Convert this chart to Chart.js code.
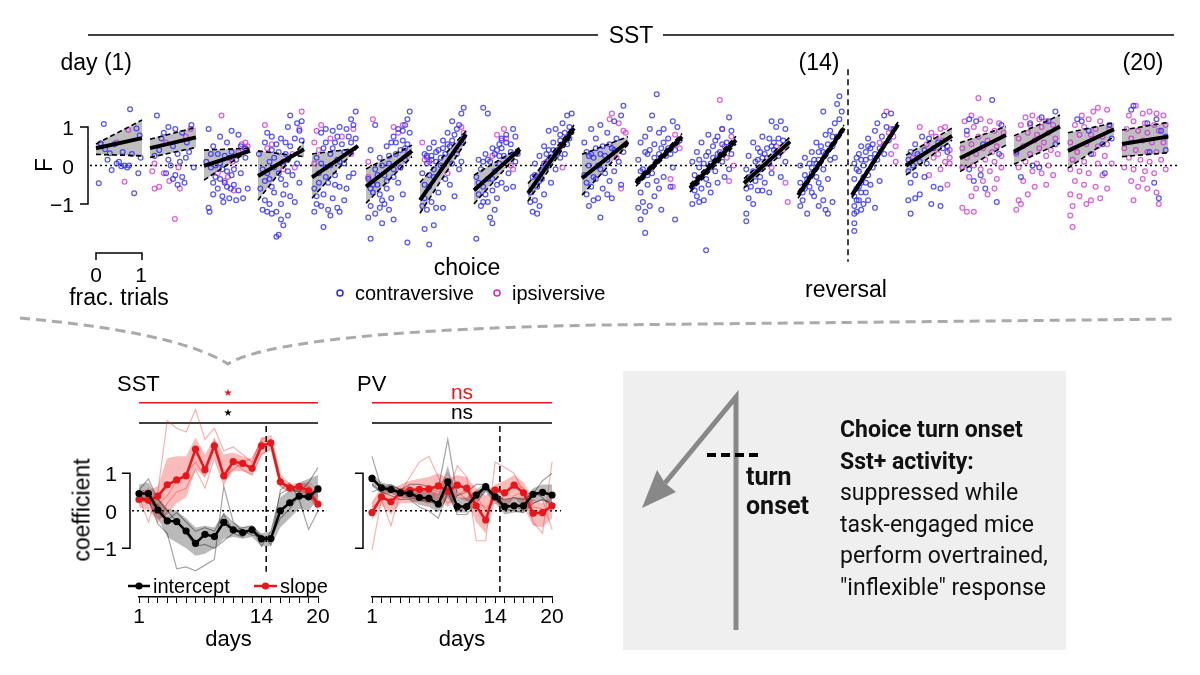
<!DOCTYPE html>
<html>
<head>
<meta charset="utf-8">
<title>SST choice turn onset</title>
<script src="https://cdn.jsdelivr.net/npm/chart.js@4.4.1/dist/chart.umd.min.js"></script>
<style>
html,body{margin:0;padding:0;background:#fff;}
#fig{position:relative;width:1200px;height:675px;overflow:hidden;background:#fff;font-family:"Liberation Sans",Arial,Helvetica,sans-serif;color:#000;}
#fig canvas{position:absolute;left:0;top:0;}
.lb{position:absolute;white-space:nowrap;line-height:1;transform:translateY(-50%);}
.c{transform:translate(-50%,-50%);}
.r{transform:translate(-100%,-50%);}
.rot{transform:translate(-50%,-50%) rotate(-90deg);}
#box{position:absolute;left:623px;top:371px;width:443px;height:279px;background:#efefef;}
.note{position:absolute;font-family:Roboto,"Noto Sans",sans-serif;color:#111;white-space:nowrap;}
</style>
</head>
<body>
<div id="fig">
  <div id="box"></div>
  <svg width="1200" height="675" style="position:absolute;left:0;top:0">
    <line x1="88" y1="35" x2="598" y2="35" stroke="#000" stroke-width="1.5"/>
    <line x1="663" y1="35" x2="1174" y2="35" stroke="#000" stroke-width="1.5"/>
    <polyline points="96,260 96,253 142,253 142,260" fill="none" stroke="#000" stroke-width="1.5"/>
    <circle cx="340" cy="293" r="3" fill="none" stroke="rgb(40,40,235)" stroke-width="1.5"/>
    <circle cx="497" cy="293" r="3" fill="none" stroke="rgb(205,40,200)" stroke-width="1.5"/>
    <path d="M20,318 C110,326 190,340 228,364 C250,350 330,330 600,325 L1176,319" fill="none" stroke="#aaa" stroke-width="3" stroke-dasharray="10 6"/>
    <polyline points="665,483 736,397 736,630" fill="none" stroke="#888" stroke-width="5" stroke-linejoin="miter"/>
    <polygon points="642,508 657,470 665,483 676,492" fill="#888"/>
    <line x1="707" y1="455" x2="762" y2="455" stroke="#000" stroke-width="4" stroke-dasharray="9 5"/>
    <line x1="128" y1="586" x2="150" y2="586" stroke="#000" stroke-width="2.5"/>
    <circle cx="139" cy="586" r="3.6" fill="#000"/>
    <line x1="254" y1="586" x2="277" y2="586" stroke="#e8161b" stroke-width="2.5"/>
    <circle cx="265.5" cy="586" r="3.6" fill="#e8161b"/>
  </svg>
  <canvas id="cTop" width="1200" height="675"></canvas>
  <canvas id="cSst" width="1200" height="675"></canvas>
  <canvas id="cPv" width="1200" height="675"></canvas>

  <div class="lb c" style="left:631px;top:35px;font-size:23px;">SST</div>
  <div class="lb r" style="left:132px;top:62px;font-size:23px;">day (1)</div>
  <div class="lb c" style="left:819px;top:62px;font-size:23px;">(14)</div>
  <div class="lb c" style="left:1143px;top:62px;font-size:23px;">(20)</div>
  <div class="lb rot" style="left:44px;top:165px;font-size:23px;">F</div>
  <div class="lb c" style="left:96px;top:274px;font-size:21px;">0</div>
  <div class="lb c" style="left:141px;top:274px;font-size:21px;">1</div>
  <div class="lb c" style="left:119px;top:297px;font-size:23px;">frac. trials</div>
  <div class="lb c" style="left:467px;top:267px;font-size:23px;">choice</div>
  <div class="lb" style="left:355px;top:293px;font-size:20px;">contraversive</div>
  <div class="lb" style="left:512px;top:293px;font-size:20px;">ipsiversive</div>
  <div class="lb" style="left:805px;top:289px;font-size:23px;">reversal</div>

  <div class="lb" style="left:117px;top:384px;font-size:22px;">SST</div>
  <div class="lb" style="left:357px;top:384px;font-size:22px;">PV</div>
  <div class="lb c" style="left:228px;top:393px;font-size:10px;color:#e8161b;font-family:'DejaVu Sans';">★</div>
  <div class="lb c" style="left:228px;top:413px;font-size:10px;font-family:'DejaVu Sans';">★</div>
  <div class="lb c" style="left:462px;top:391px;font-size:21px;color:#e8161b;">ns</div>
  <div class="lb c" style="left:462px;top:411px;font-size:21px;">ns</div>
  <div class="lb rot" style="left:82px;top:510px;font-size:23px;">coefficient</div>
  <div class="lb" style="left:153px;top:586px;font-size:20px;">intercept</div>
  <div class="lb" style="left:280px;top:586px;font-size:20px;">slope</div>

  <div class="note" style="left:840px;top:414px;font-size:23px;line-height:31.6px;"><b>Choice turn onset<br>Sst+ activity:</b><br>suppressed while<br>task-engaged mice<br>perform overtrained,<br>"inflexible" response</div>
  <div class="note" style="left:746px;top:463px;font-size:25px;line-height:28.5px;font-weight:bold;">turn<br>onset</div>
  <div id="labels"></div>
</div>

<script>
// ================= DATA =================
const days = [1,2,3,4,5,6,7,8,9,10,11,12,13,14,15,16,17,18,19,20];
const xTickLabels = [1, 14, 20];
const yTickValues = [-1, 0, 1];
const reversalDay = 14.5;

// Top panel: per-day regression line (value at frac 0 and frac 1) and band edges
const regStart    = [0.45,0.45,-0.01,-0.27,-0.31,-0.55,-0.90,-0.64,-0.72,-0.33,-0.46,-0.59,-0.46,-0.77,-0.77,0.00,0.19,0.36,0.38,0.56];
const regEnd      = [0.71,0.73,0.38,0.42,0.51,0.38,0.81,0.42,0.97,0.62,0.75,0.66,0.62,0.97,1.07,0.77,0.79,1.01,0.94,0.75];
const bandUpStart = [0.56,0.68,0.40,0.38,0.30,-0.09,-0.44,-0.25,-0.47,0.29,-0.38,-0.49,-0.34,-0.69,-0.71,0.27,0.59,0.77,0.85,0.92];
const bandUpEnd   = [1.18,0.99,0.45,0.23,0.45,0.53,0.90,0.47,1.05,0.75,0.83,0.76,0.74,1.05,1.13,0.97,1.01,1.31,1.11,1.12];
const bandLoStart = [0.29,0.21,-0.38,-0.90,-0.85,-0.98,-1.24,-1.00,-0.93,-0.77,-0.54,-0.69,-0.58,-0.85,-0.83,-0.25,-0.16,0.03,-0.07,0.23];
const bandLoEnd   = [0.25,0.47,0.40,0.62,0.49,0.23,0.62,0.35,0.87,0.55,0.67,0.56,0.50,0.89,1.01,0.66,0.53,0.58,0.75,0.33];

// Top panel trials: [fraction of trials, F] per day
const contraPts = [
 [[0.06,-0.46],[0.17,1.08],[0.74,1.46],[0.83,-0.72],[0.92,-0.2],[0.34,-0.12],[0.88,0.96],[0.45,0.05],[0.5,0.1],[0.55,-0.02],[0.62,0.0],[0.68,-0.05],[0.72,0.0],[0.3,0.32],[0.2,0.42],[0.4,0.55],[0.97,0.2],[0.78,0.3],[0.1,0.58],[0.58,0.35],[0.95,0.78],[0.25,0.15]],
 [[0.15,1.3],[0.4,1.0],[0.55,0.95],[0.9,1.05],[0.3,0.85],[0.7,0.85],[0.8,0.6],[0.5,0.5],[0.2,0.4],[0.6,0.3],[0.85,0.35],[0.65,0.1],[0.45,0.0],[0.95,-0.05],[0.35,-0.2],[0.55,-0.25],[0.7,-0.3],[0.5,-0.35],[0.6,-0.5],[0.75,-0.45],[0.1,0.25],[0.25,0.7],[0.78,0.2],[0.4,0.15]],
 [[0.1,0.95],[0.35,0.75],[0.6,0.9],[0.75,0.8],[0.2,0.5],[0.5,0.6],[0.9,0.45],[0.3,0.3],[0.55,0.2],[0.7,0.15],[0.05,0.1],[0.15,-0.05],[0.4,-0.1],[0.6,-0.25],[0.8,-0.2],[0.25,-0.3],[0.45,-0.45],[0.5,-0.55],[0.65,-0.5],[0.3,-0.6],[0.2,-0.75],[0.4,-0.8],[0.55,-0.85],[0.75,-0.65],[0.1,-1.1],[0.12,-1.2],[0.95,-0.6],[0.85,-0.85],[0.7,-0.9],[0.35,0.05]],
 [[0.7,1.3],[0.85,1.1],[0.95,1.15],[0.65,1.0],[0.9,0.9],[0.2,0.85],[0.3,0.75],[0.5,0.7],[0.15,0.6],[0.4,0.55],[0.7,0.5],[0.95,0.65],[0.6,0.3],[0.35,0.2],[0.55,0.1],[0.85,0.05],[0.1,-0.1],[0.45,-0.2],[0.75,-0.25],[0.25,-0.35],[0.6,-0.5],[0.9,-0.45],[0.05,-0.6],[0.35,-0.7],[0.7,-0.8],[0.15,-0.9],[0.5,-1.0],[0.4,-1.2],[0.1,-1.15],[0.2,-1.2],[0.65,-1.3],[0.5,-1.4],[0.55,-1.55],[0.45,-1.8],[0.4,-1.85],[0.3,-1.25],[0.8,-0.95],[0.25,0.1],[0.65,0.15],[0.02,0.3]],
 [[0.95,1.4],[0.85,1.2],[0.9,1.05],[0.6,1.0],[0.75,0.95],[0.3,0.95],[0.45,0.9],[0.2,0.85],[0.8,0.75],[0.95,0.7],[0.5,0.6],[0.65,0.55],[0.25,0.45],[0.85,0.35],[0.4,0.3],[0.1,0.2],[0.55,0.15],[0.7,0.05],[0.3,-0.05],[0.15,-0.2],[0.5,-0.25],[0.8,-0.3],[0.35,-0.45],[0.6,-0.55],[0.05,-0.6],[0.25,-0.75],[0.45,-0.85],[0.7,-0.9],[0.1,-1.0],[0.2,-1.05],[0.35,-1.15],[0.55,-1.1],[0.05,-1.2],[0.4,-1.3],[0.6,-1.2],[0.25,-1.6],[0.75,-0.6],[0.9,-0.2]],
 [[0.95,1.4],[0.9,1.2],[0.85,1.05],[0.7,0.95],[0.95,0.85],[0.2,1.05],[0.6,0.75],[0.8,0.65],[0.9,0.55],[0.45,0.5],[0.1,0.4],[0.65,0.3],[0.3,0.2],[0.85,0.15],[0.5,0.05],[0.2,-0.1],[0.75,-0.05],[0.4,-0.25],[0.6,-0.3],[0.05,-0.35],[0.25,-0.5],[0.7,-0.45],[0.45,-0.6],[0.15,-0.7],[0.55,-0.85],[0.35,-0.9],[0.8,-0.75],[0.1,-1.05],[0.3,-1.1],[0.5,-1.15],[0.2,-1.25],[0.6,-1.4],[0.35,-1.5],[0.05,-1.35],[0.1,-1.9],[0.9,-2.0],[0.75,0.4],[0.55,0.6]],
 [[0.95,1.5],[0.9,1.35],[0.7,1.15],[0.85,1.05],[0.6,0.85],[0.75,0.8],[0.95,0.75],[0.3,0.6],[0.5,0.65],[0.2,0.45],[0.4,0.4],[0.65,0.5],[0.1,0.3],[0.25,0.25],[0.55,0.3],[0.8,0.3],[0.35,0.1],[0.45,0.0],[0.15,0.05],[0.7,0.05],[0.05,-0.2],[0.3,-0.3],[0.55,-0.35],[0.85,-0.1],[0.2,-0.55],[0.4,-0.7],[0.1,-0.85],[0.65,-0.5],[0.25,-0.95],[0.05,-1.05],[0.35,-1.1],[0.15,-1.15],[0.5,-1.1],[0.3,-1.55],[0.1,-1.65],[0.2,-2.05],[0.75,-0.8],[0.9,0.1]],
 [[0.2,1.5],[0.3,1.35],[0.85,0.95],[0.9,0.75],[0.6,0.7],[0.7,0.6],[0.4,0.45],[0.5,0.4],[0.8,0.35],[0.25,0.3],[0.65,0.25],[0.1,0.15],[0.35,0.1],[0.55,0.05],[0.9,0.1],[0.15,-0.1],[0.45,-0.15],[0.75,-0.2],[0.05,-0.3],[0.3,-0.35],[0.6,-0.45],[0.2,-0.55],[0.4,-0.65],[0.7,-0.6],[0.1,-0.75],[0.5,-0.85],[0.3,-0.95],[0.15,-1.05],[0.45,-1.15],[0.35,-1.35],[0.4,-1.5],[0.05,-1.9],[0.85,-0.55],[0.95,0.3],[0.55,0.55]],
 [[0.95,1.35],[0.85,1.3],[0.75,1.1],[0.9,1.0],[0.6,0.95],[0.45,0.9],[0.7,0.8],[0.55,0.6],[0.85,0.55],[0.35,0.5],[0.65,0.4],[0.25,0.25],[0.5,0.2],[0.8,0.3],[0.15,0.05],[0.4,-0.05],[0.6,-0.1],[0.1,-0.3],[0.3,-0.35],[0.5,-0.45],[0.2,-0.55],[0.05,-0.7],[0.35,-0.75],[0.15,-0.9],[0.25,-1.05],[0.1,-1.2],[0.2,-1.25],[0.9,0.7],[0.45,0.15]],
 [[0.9,1.55],[0.85,1.3],[0.7,1.15],[0.4,1.05],[0.2,0.95],[0.55,0.85],[0.05,0.6],[0.3,0.7],[0.75,0.7],[0.45,0.5],[0.65,0.45],[0.1,0.35],[0.9,0.35],[0.25,0.2],[0.55,0.15],[0.8,0.1],[0.15,0.0],[0.4,-0.1],[0.7,-0.15],[0.05,-0.25],[0.3,-0.35],[0.6,-0.4],[0.2,-0.55],[0.45,-0.6],[0.85,-0.5],[0.1,-0.75],[0.35,-0.85],[0.25,-0.9],[0.15,-1.05],[0.4,-1.35],[0.65,-0.85]],
 [[0.45,1.85],[0.35,1.3],[0.8,1.15],[0.9,1.0],[0.6,0.95],[0.3,0.95],[0.5,0.85],[0.2,0.75],[0.7,0.7],[0.95,0.65],[0.1,0.6],[0.4,0.55],[0.55,0.45],[0.85,0.4],[0.25,0.3],[0.65,0.25],[0.05,0.15],[0.45,0.1],[0.8,-0.05],[0.15,-0.1],[0.35,-0.2],[0.6,-0.3],[0.05,-0.4],[0.25,-0.5],[0.5,-0.6],[0.75,-0.55],[0.1,-0.7],[0.4,-0.8],[0.15,-0.95],[0.3,-1.05],[0.05,-1.1],[0.2,-1.2],[0.1,-1.4],[0.55,-1.15],[0.85,-1.4],[0.2,-1.75]],
 [[0.85,1.25],[0.9,0.9],[0.7,0.95],[0.4,0.8],[0.6,0.75],[0.25,0.6],[0.8,0.6],[0.5,0.5],[0.15,0.35],[0.65,0.35],[0.35,0.25],[0.9,0.3],[0.05,0.1],[0.45,0.05],[0.7,0.1],[0.2,-0.05],[0.55,-0.15],[0.85,-0.1],[0.1,-0.25],[0.35,-0.35],[0.6,-0.45],[0.05,-0.55],[0.25,-0.6],[0.45,-0.7],[0.15,-0.8],[0.3,-0.9],[0.05,-1.0],[0.35,-2.2],[0.75,-0.3],[0.5,0.2]],
 [[0.6,1.15],[0.8,1.15],[0.7,1.0],[0.9,0.95],[0.4,0.75],[0.55,0.7],[0.2,0.6],[0.85,0.65],[0.3,0.45],[0.65,0.4],[0.1,0.25],[0.45,0.3],[0.75,0.25],[0.25,0.1],[0.55,0.05],[0.9,0.1],[0.05,-0.1],[0.35,-0.1],[0.6,-0.2],[0.15,-0.35],[0.45,-0.45],[0.8,-0.3],[0.05,-0.6],[0.3,-0.65],[0.55,-0.7],[0.1,-0.85],[0.2,-1.0],[0.05,-1.25],[0.05,-1.45],[0.35,-0.3]],
 [[0.9,1.8],[0.85,1.6],[0.55,1.4],[0.95,1.4],[0.8,1.1],[0.9,1.2],[0.7,0.9],[0.6,0.8],[0.85,0.75],[0.4,0.6],[0.5,0.5],[0.75,0.5],[0.3,0.35],[0.6,0.3],[0.15,0.2],[0.45,0.15],[0.8,0.2],[0.05,0.0],[0.3,-0.05],[0.55,-0.1],[0.15,-0.25],[0.4,-0.3],[0.65,-0.35],[0.05,-0.45],[0.25,-0.55],[0.5,-0.6],[0.1,-0.7],[0.35,-0.8],[0.55,-0.9],[0.05,-1.05],[0.2,-1.25],[0.6,-1.15],[0.65,-1.25],[0.45,-1.05],[0.75,-0.95],[0.3,-0.2],[0.7,0.15]],
 [[0.7,1.3],[0.85,1.35],[0.55,1.1],[0.75,1.0],[0.9,0.95],[0.5,0.9],[0.65,0.75],[0.35,0.7],[0.8,0.65],[0.45,0.55],[0.2,0.5],[0.6,0.45],[0.3,0.35],[0.7,0.3],[0.1,0.2],[0.4,0.2],[0.55,0.15],[0.05,0.05],[0.25,0.0],[0.45,-0.05],[0.15,-0.15],[0.35,-0.25],[0.05,-0.35],[0.2,-0.45],[0.4,-0.5],[0.1,-0.6],[0.3,-0.7],[0.05,-0.8],[0.15,-0.9],[0.25,-1.0],[0.05,-1.05],[0.1,-1.2],[0.2,-1.15],[0.05,-1.5],[0.05,-1.7],[0.35,-0.9],[0.5,-1.1],[0.6,-0.4],[0.5,0.3]],
 [[0.35,0.75],[0.5,0.7],[0.2,0.55],[0.7,0.6],[0.9,0.5],[0.1,0.35],[0.4,0.4],[0.6,0.45],[0.8,0.45],[0.25,0.3],[0.05,0.15],[0.3,0.1],[0.15,0.0],[0.45,0.05],[0.05,-0.15],[0.2,-0.25],[0.4,-0.3],[0.1,-0.45],[0.6,-0.55],[0.3,-0.75],[0.75,-0.6],[0.05,-0.9],[0.55,-1.0],[0.75,-1.05],[0.2,-0.85],[0.1,-1.25],[0.9,0.35]],
 [[0.2,1.2],[0.35,1.15],[0.7,1.7],[0.9,1.05],[0.15,0.9],[0.5,0.55],[0.85,0.3],[0.2,-0.1],[0.3,-0.4],[0.55,-0.6],[0.8,-0.95],[0.45,-0.25]],
 [[0.35,1.1],[0.6,1.25],[0.75,1.15],[0.9,1.4],[0.05,0.35],[0.4,0.0],[0.15,-0.3],[0.9,0.55],[0.55,-0.05]],
 [[0.2,1.2],[0.3,1.15],[0.9,1.05],[0.75,0.55],[0.5,0.3],[0.8,-0.2],[0.45,0.9],[0.95,0.7]],
 [[0.25,1.55],[0.2,1.45],[0.55,1.1],[0.75,1.2],[0.85,0.9],[0.95,0.75],[0.95,0.4],[0.7,-0.45],[0.8,-0.85],[0.6,0.35]]
];
// additional contraversive trials packed near each day's regression line
const contraPtsMore = [
 [],
 [],
 [[0.15,0.3],[0.25,0.0],[0.45,0.25],[0.6,0.35],[0.8,0.5],[0.35,-0.35],[0.5,-0.15],[0.65,-0.1],[0.9,0.2],[0.2,-0.45],[0.58,-0.6],[0.42,-0.95]],
 [[0.3,0.4],[0.45,0.35],[0.6,0.6],[0.8,0.7],[0.2,-0.2],[0.35,-0.05],[0.5,-0.35],[0.65,-0.15],[0.3,-0.55],[0.15,-0.4],[0.55,-0.75],[0.25,-1.0]],
 [[0.3,0.6],[0.45,0.45],[0.55,0.75],[0.7,0.35],[0.85,0.6],[0.2,0.05],[0.4,0.0],[0.6,0.1],[0.15,-0.45],[0.3,-0.3],[0.5,-0.5],[0.1,-0.8]],
 [[0.8,0.9],[0.65,0.6],[0.85,0.45],[0.5,0.25],[0.35,0.0],[0.6,-0.1],[0.25,-0.25],[0.45,-0.4],[0.15,-0.5],[0.3,-0.75],[0.1,-0.6],[0.4,-1.0]],
 [[0.8,0.95],[0.9,0.6],[0.7,0.65],[0.6,0.55],[0.45,0.2],[0.35,0.35],[0.5,0.45],[0.25,0.15],[0.15,0.25],[0.3,-0.1],[0.2,-0.25],[0.1,-0.5]],
 [[0.7,0.8],[0.8,0.55],[0.6,0.45],[0.45,0.3],[0.55,0.25],[0.3,0.15],[0.2,0.1],[0.4,-0.35],[0.5,-0.5],[0.25,-0.75],[0.1,-0.45],[0.2,-0.95]],
 [[0.8,0.85],[0.7,0.65],[0.55,0.4],[0.6,0.3],[0.4,0.3],[0.45,0.4],[0.35,0.05],[0.3,-0.15],[0.25,-0.4],[0.15,-0.25],[0.05,-0.95],[0.7,0.2]],
 [[0.2,0.3],[0.3,0.45],[0.4,0.3],[0.5,0.25],[0.6,0.55],[0.7,0.4],[0.15,0.25],[0.35,0.0],[0.5,-0.2],[0.25,-0.3],[0.1,-0.45],[0.55,-0.75]],
 [[0.6,0.6],[0.7,0.45],[0.75,0.3],[0.5,0.3],[0.4,0.2],[0.3,0.4],[0.2,0.35],[0.35,-0.05],[0.25,-0.25],[0.15,-0.3],[0.45,-0.4],[0.1,-0.15]],
 [[0.7,0.55],[0.55,0.65],[0.6,0.3],[0.4,0.35],[0.3,0.05],[0.45,-0.05],[0.2,0.15],[0.25,-0.3],[0.15,-0.45],[0.4,-0.5],[0.1,-0.65],[0.2,-0.95]],
 [[0.75,0.7],[0.65,0.6],[0.5,0.45],[0.6,0.5],[0.4,0.2],[0.3,0.15],[0.35,0.35],[0.2,-0.15],[0.25,-0.4],[0.15,-0.55],[0.4,-0.65],[0.1,-0.3]],
 [[0.75,0.75],[0.65,0.55],[0.55,0.35],[0.45,0.35],[0.4,0.05],[0.35,0.15],[0.25,0.05],[0.2,-0.35],[0.15,-0.6],[0.3,-0.7],[0.1,-0.9],[0.45,-0.45]],
 [[0.4,0.45],[0.3,0.15],[0.2,0.15],[0.15,0.3],[0.1,-0.1],[0.25,-0.3],[0.15,-0.55],[0.3,-0.45],[0.1,-0.9],[0.2,-0.7],[0.05,-1.25],[0.35,0.5]],
 [],
 [],
 [],
 [],
 []
];
const ipsiPts = [
 [[0.62,-0.42],[0.7,0.92],[0.1,0.55],[0.45,0.6]],
 [[0.54,-1.39],[0.05,-0.15],[0.1,-0.6],[0.2,-0.55],[0.3,-0.2],[0.42,-0.4],[0.62,-0.05],[0.35,0.6],[0.1,0.05],[0.78,0.75],[0.88,0.95],[0.65,-0.6]],
 [[0.38,1.3],[0.82,0.55],[0.88,0.45],[0.9,0.6],[0.75,0.35],[0.45,-0.4],[0.52,-0.3],[0.65,-0.65],[0.62,0.1],[0.3,-0.2],[0.95,0.5]],
 [[0.15,1.05],[0.3,0.55],[0.95,1.4],[0.9,0.95],[0.75,0.3],[0.55,-0.1],[0.2,0.45],[0.8,-0.05]],
 [[0.1,0.9],[0.2,1.05],[0.05,0.6],[0.15,0.4],[0.65,0.75],[0.9,0.95],[0.85,0.3],[0.05,0.05],[0.4,0.7]],
 [[0.15,1.2],[0.6,1.0],[0.8,1.05],[0.7,0.85],[0.05,0.1],[0.05,-0.3],[0.75,-0.05],[0.9,0.3]],
 [[0.1,0.15],[0.15,0.2],[0.2,0.1],[0.9,1.0],[0.95,0.85],[0.6,-0.2],[0.05,0.6],[0.8,0.4]],
 [[0.5,0.8],[0.65,0.95],[0.7,0.7],[0.6,0.65],[0.4,0.25],[0.8,0.0],[0.85,-0.1]],
 [[0.4,0.1],[0.3,-0.1],[0.7,0.5],[0.2,-0.3],[0.75,-0.05]],
 [[0.6,1.2],[0.65,1.35],[0.8,1.1],[0.9,0.9],[0.95,0.55],[0.75,0.2],[0.85,-0.6],[0.95,0.85]],
 [[0.85,0.8],[0.9,0.6],[0.95,0.45],[0.75,-0.35],[0.8,-0.55]],
 [[0.65,1.7],[0.7,0.95],[0.9,0.75],[0.75,0.5],[0.8,0.2],[0.85,-0.4],[0.95,0.0]],
 [[0.7,0.5],[0.75,0.35],[0.6,-0.05],[0.9,-0.45],[0.95,-0.95],[0.5,0.2],[0.85,0.4]],
 [],
 [[0.75,1.4],[0.85,0.95],[0.8,0.85],[0.9,0.75],[0.95,0.5],[0.7,0.55],[0.95,0.1],[0.6,0.6],[0.85,0.3]],
 [[0.3,1.0],[0.55,0.85],[0.75,0.95],[0.85,1.0],[0.65,0.75],[0.8,0.65],[0.95,0.4],[0.45,0.55],[0.6,0.2],[0.7,0.3],[0.85,0.1],[0.95,0.2],[0.75,-0.1],[0.5,-0.25],[0.3,0.25],[0.9,-0.5],[0.15,0.2],[0.95,0.05]],
 [[0.4,1.75],[0.1,1.15],[0.25,1.3],[0.45,1.2],[0.65,1.15],[0.85,1.1],[0.3,1.0],[0.55,0.95],[0.75,0.9],[0.15,0.8],[0.95,0.85],[0.4,0.75],[0.6,0.65],[0.25,0.55],[0.8,0.5],[0.05,0.45],[0.5,0.45],[0.7,0.35],[0.35,0.3],[0.9,0.25],[0.15,0.2],[0.55,0.15],[0.75,0.1],[0.3,0.0],[0.05,-0.05],[0.45,-0.1],[0.65,-0.15],[0.9,-0.05],[0.2,-0.3],[0.5,-0.4],[0.8,-0.35],[0.35,-0.6],[0.6,-0.75],[0.25,-0.8],[0.05,-1.1],[0.15,-1.2],[0.3,-1.2],[0.75,-0.6]],
 [[0.25,1.25],[0.4,1.3],[0.55,1.2],[0.7,1.15],[0.15,1.05],[0.35,1.05],[0.6,1.0],[0.85,1.05],[0.3,0.85],[0.5,0.8],[0.75,0.85],[0.1,0.7],[0.45,0.65],[0.65,0.6],[0.9,0.7],[0.2,0.5],[0.55,0.45],[0.8,0.4],[0.05,0.3],[0.35,0.3],[0.7,0.25],[0.95,0.3],[0.25,0.1],[0.5,0.05],[0.75,0.0],[0.1,-0.05],[0.4,-0.15],[0.6,-0.2],[0.85,-0.25],[0.2,-0.4],[0.45,-0.55],[0.7,-0.5],[0.1,-0.9],[0.3,-0.75],[0.05,-1.15],[0.15,-1.0]],
 [[0.65,1.5],[0.55,1.4],[0.85,1.45],[0.3,1.3],[0.45,1.2],[0.7,1.15],[0.15,1.05],[0.35,1.0],[0.6,0.95],[0.9,0.95],[0.25,0.8],[0.5,0.8],[0.75,0.75],[0.05,0.6],[0.4,0.55],[0.65,0.5],[0.85,0.55],[0.2,0.35],[0.55,0.3],[0.8,0.25],[0.1,0.15],[0.35,0.1],[0.65,0.05],[0.95,0.05],[0.05,-0.1],[0.25,-0.15],[0.45,-0.2],[0.75,-0.25],[0.15,-0.4],[0.35,-0.5],[0.6,-0.55],[0.85,-0.6],[0.05,-0.75],[0.25,-0.8],[0.5,-0.9],[0.1,-1.05],[0.05,-1.3],[0.1,-1.6],[0.4,-1.0],[0.7,-0.85]],
 [[0.3,1.55],[0.45,1.35],[0.6,1.4],[0.75,1.35],[0.9,1.3],[0.15,1.3],[0.25,1.15],[0.5,1.1],[0.7,1.05],[0.95,1.05],[0.1,0.95],[0.35,0.9],[0.55,0.85],[0.8,0.9],[0.2,0.7],[0.45,0.65],[0.65,0.6],[0.9,0.6],[0.05,0.45],[0.3,0.4],[0.55,0.35],[0.75,0.35],[0.15,0.2],[0.4,0.15],[0.6,0.1],[0.85,0.15],[0.05,-0.05],[0.25,-0.1],[0.5,-0.15],[0.7,-0.2],[0.95,-0.1],[0.2,-0.4],[0.35,-0.55],[0.55,-0.6],[0.75,-0.7],[0.25,-0.9],[0.8,-1.0],[0.45,-0.35]]
];

// Bottom SST panel
const sstIntercept = [0.46,0.46,0.02,-0.27,-0.29,-0.54,-0.87,-0.63,-0.69,-0.31,-0.51,-0.58,-0.51,-0.75,-0.74,0.00,0.21,0.39,0.37,0.58];
const sstSlope     = [0.30,0.28,0.39,0.69,0.82,0.93,1.64,1.09,1.73,0.93,1.31,1.26,1.13,1.73,1.81,0.77,0.61,0.64,0.53,0.18];
const sstInterUp   = [0.70,0.75,0.35,0.05,0.00,-0.20,-0.45,-0.40,-0.45,-0.05,-0.30,-0.45,-0.40,-0.60,-0.55,0.35,0.55,0.75,0.85,0.95];
const sstInterLo   = [0.25,0.20,-0.20,-0.70,-0.85,-1.00,-1.20,-1.15,-1.00,-0.75,-0.70,-0.75,-0.70,-0.95,-0.95,-0.45,-0.20,0.05,0.00,0.30];
const sstSlopeUp   = [0.55,0.55,0.65,1.40,1.45,1.45,1.95,1.50,1.93,1.50,1.55,1.45,1.35,1.97,1.95,0.90,0.70,0.75,0.70,0.45];
const sstSlopeLo   = [0.10,0.00,-0.25,-0.10,0.20,0.35,1.10,0.90,1.45,0.75,1.05,1.05,0.95,1.48,1.65,0.65,0.50,0.50,0.35,0.00];
const sstMiceInter = [
 [0.55,0.85,0.30,0.00,-0.30,-0.60,-0.95,-0.90,-1.00,-0.80,-0.60,-0.70,-0.45,-0.95,-0.55,0.45,0.60,0.50,0.75,1.15],
 [0.35,0.30,-0.35,-0.60,-1.55,-1.50,-1.60,-1.45,-1.30,0.65,-0.30,-0.55,-0.65,-0.65,-0.90,0.55,0.75,0.30,-0.50,0.00],
 [0.45,0.20,0.15,-0.25,-0.05,-0.30,-0.55,-0.45,-0.55,-0.10,-0.55,-0.45,-0.40,-0.70,-0.75,-0.20,0.05,0.40,0.30,0.55]
];
const sstMiceSlope = [
 [0.35,-0.30,0.50,2.40,2.20,2.10,2.70,1.90,2.20,1.60,1.70,1.50,1.30,1.90,2.00,0.95,0.70,0.55,0.45,0.10],
 [0.20,0.45,0.15,0.40,0.80,1.00,1.30,0.90,1.90,0.90,1.10,1.30,1.40,1.85,1.85,0.75,0.60,0.70,0.75,0.55],
 [0.40,0.60,-0.30,0.20,0.50,0.60,1.10,0.60,1.40,0.70,1.30,1.10,0.95,1.50,1.65,0.65,0.50,0.65,0.40,0.20]
];

// Bottom PV panel
const pvIntercept = [0.86,0.61,0.57,0.48,0.46,0.35,0.33,0.18,0.77,0.11,0.11,0.42,0.64,0.37,0.11,0.13,0.13,0.44,0.49,0.42];
const pvSlope     = [-0.05,0.37,0.24,0.48,0.55,0.57,0.58,0.66,0.52,0.68,0.60,0.13,-0.25,0.55,0.48,0.68,0.48,-0.07,-0.05,0.13];
const pvInterUp   = [1.00,0.75,0.70,0.60,0.60,0.55,0.55,0.45,1.20,0.35,0.35,0.55,0.75,0.50,0.30,0.35,0.35,0.60,0.70,0.70];
const pvInterLo   = [0.65,0.45,0.45,0.35,0.30,0.15,0.10,-0.05,0.35,-0.05,-0.05,0.25,0.50,0.20,-0.10,-0.05,-0.05,0.25,0.25,0.20];
const pvSlopeUp   = [0.20,0.55,0.55,0.70,0.80,0.85,0.90,1.00,0.85,0.95,0.90,0.60,0.40,0.70,0.80,0.95,0.75,0.30,0.20,0.40];
const pvSlopeLo   = [-0.25,0.15,-0.10,0.20,0.20,0.25,0.20,0.30,0.10,0.35,0.25,-0.30,-0.60,0.30,0.10,0.35,0.10,-0.40,-0.45,-0.20];
const pvMiceInter = [
 [1.45,0.60,0.70,0.55,0.70,0.70,0.65,0.60,1.90,0.40,0.50,0.70,0.70,0.35,0.30,0.35,0.30,0.45,0.80,1.00],
 [0.70,0.50,0.40,0.30,0.30,0.10,0.00,-0.20,0.50,-0.10,-0.10,0.20,0.55,0.40,0.05,0.00,-0.05,0.20,0.30,0.20],
 [0.50,0.60,0.50,0.50,0.35,0.30,0.25,0.15,0.60,0.00,0.10,0.35,0.60,0.30,0.05,0.15,0.00,0.50,0.35,0.10]
];
const pvMiceSlope = [
 [-1.05,0.30,-0.40,0.50,0.90,1.30,1.45,0.90,0.40,1.20,0.90,-0.80,-0.80,1.30,1.15,1.00,0.50,-0.30,-0.60,1.30],
 [0.20,0.60,0.50,0.60,0.40,0.30,0.20,0.60,1.00,0.50,0.30,0.20,0.10,0.20,0.40,0.70,0.60,0.20,0.30,-0.50],
 [0.10,0.30,0.30,0.30,0.40,0.50,0.60,0.50,0.20,0.40,0.60,0.40,0.00,0.30,0.00,0.40,0.50,0.10,0.05,0.00]
];

// ================= RENDER =================
const FONT = '"Liberation Sans", Arial, sans-serif';
const RED = '#e8161b';
const BLUE_PT = 'rgba(45,45,245,0.8)';
const MAG_PT = 'rgba(205,45,205,0.75)';
const GAP = 54 / 46;               // spacing between day sub-panels, in frac-trial units
const XMAX = 19 * GAP + 1;
const xOf = (d, f) => (d - 1) * GAP + f;

Chart.defaults.font.family = FONT;
Chart.defaults.color = '#000';

// ---- top panel datasets ----
const topDs = [];
days.forEach((d, i) => topDs.push({
  data: [{x: xOf(d, 0), y: regStart[i]}, {x: xOf(d, 1), y: regEnd[i]}],
  borderColor: '#000', borderWidth: 4, pointRadius: 0, fill: false, clip: false, borderCapStyle: 'butt'
}));
days.forEach((d, i) => {
  topDs.push({
    data: [{x: xOf(d, 0), y: bandUpStart[i]}, {x: xOf(d, 1), y: bandUpEnd[i]}],
    borderColor: '#000', borderWidth: 1.6, borderDash: [5, 3], pointRadius: 0,
    fill: '+1', backgroundColor: 'rgba(150,150,150,0.62)', clip: false
  });
  topDs.push({
    data: [{x: xOf(d, 0), y: bandLoStart[i]}, {x: xOf(d, 1), y: bandLoEnd[i]}],
    borderColor: '#000', borderWidth: 1.6, borderDash: [5, 3], pointRadius: 0, fill: false, clip: false
  });
});
const toPts = (arr) => arr.flatMap((dayPts, i) => dayPts.map(p => ({x: xOf(days[i], p[0]), y: p[1]})));
topDs.push({label: 'contraversive', data: toPts(contraPts).concat(toPts(contraPtsMore)), showLine: false, pointRadius: 2.4, pointBorderWidth: 1.25,
  pointBorderColor: BLUE_PT, pointBackgroundColor: 'rgba(0,0,0,0)', clip: false});
topDs.push({label: 'ipsiversive', data: toPts(ipsiPts), showLine: false, pointRadius: 2.4, pointBorderWidth: 1.25,
  pointBorderColor: MAG_PT, pointBackgroundColor: 'rgba(0,0,0,0)', clip: false});

const topY0 = 165.5, topPxPerUnit = 38.5, topYMin = -2.2, topYMax = 1.95;
const topDecor = {
  id: 'topDecor',
  beforeDatasetsDraw(chart) {
    const {ctx, chartArea: a, scales: {x, y}} = chart;
    ctx.save();
    ctx.strokeStyle = '#000';
    const bx = a.left - 8;
    ctx.lineWidth = 1.5;
    ctx.beginPath();
    ctx.moveTo(bx - 8, y.getPixelForValue(1)); ctx.lineTo(bx, y.getPixelForValue(1));
    ctx.lineTo(bx, y.getPixelForValue(-1)); ctx.lineTo(bx - 8, y.getPixelForValue(-1));
    ctx.stroke();
    ctx.setLineDash([2, 3]);
    ctx.lineWidth = 1.6;
    ctx.beginPath();
    ctx.moveTo(bx + 2, y.getPixelForValue(0)); ctx.lineTo(a.right + 12, y.getPixelForValue(0));
    ctx.stroke();
    const rx = x.getPixelForValue(xOf(14, 1) + (GAP - 1) / 2);
    ctx.setLineDash([6, 4]);
    ctx.lineWidth = 1.5;
    ctx.beginPath();
    ctx.moveTo(rx, y.getPixelForValue(2.5)); ctx.lineTo(rx, y.getPixelForValue(-2.5));
    ctx.stroke();
    ctx.restore();
  }
};

new Chart(document.getElementById('cTop'), {
  type: 'line',
  data: {datasets: topDs},
  options: {
    responsive: false, animation: false, events: [],
    layout: {padding: {left: 96, right: 1200 - (96 + XMAX * 46),
      top: topY0 - topYMax * topPxPerUnit, bottom: 675 - (topY0 - topYMin * topPxPerUnit)}},
    scales: {
      x: {type: 'linear', display: false, min: 0, max: XMAX},
      y: {type: 'linear', display: false, min: topYMin, max: topYMax}
    },
    plugins: {legend: {display: false}, tooltip: {enabled: false}, filler: {drawTime: 'beforeDatasetsDraw'}}
  },
  plugins: [topDecor]
});

// tick labels placed from the scale values
const labelsDiv = document.getElementById('labels');
function addLabel(text, left, top, cls, size) {
  const el = document.createElement('div');
  el.className = 'lb ' + cls;
  el.style.left = left + 'px'; el.style.top = top + 'px'; el.style.fontSize = size + 'px';
  el.textContent = text;
  labelsDiv.appendChild(el);
}
const fmt = v => v < 0 ? '\u2212' + Math.abs(v) : String(v);
yTickValues.forEach(v => addLabel(fmt(v), 74, topY0 - v * topPxPerUnit, 'r', 21));

// ---- bottom panels ----
const bY0 = 510.7, bPx = 37.5, bYMin = -2.3, bYMax = 3.4;
function bottomDatasets(inter, slope, iUp, iLo, sUp, sLo, miceI, miceS) {
  const pts = a => a.map((v, i) => ({x: days[i], y: v}));
  const ds = [];
  ds.push({label: 'intercept', data: pts(inter), borderColor: '#000', backgroundColor: '#000', borderWidth: 2.5,
    pointRadius: 3.6, pointBorderWidth: 0, pointBackgroundColor: '#000', fill: false, clip: false});
  ds.push({label: 'slope', data: pts(slope), borderColor: RED, backgroundColor: RED, borderWidth: 2.5,
    pointRadius: 3.6, pointBorderWidth: 0, pointBackgroundColor: RED, fill: false, clip: false});
  miceI.forEach(a => ds.push({data: pts(a), borderColor: 'rgba(0,0,0,0.36)', borderWidth: 1.2, pointRadius: 0, fill: false, clip: false}));
  miceS.forEach(a => ds.push({data: pts(a), borderColor: 'rgba(235,40,40,0.36)', borderWidth: 1.2, pointRadius: 0, fill: false, clip: false}));
  ds.push({data: pts(iUp), borderColor: 'rgba(0,0,0,0)', pointRadius: 0, fill: '+1', backgroundColor: 'rgba(0,0,0,0.27)'});
  ds.push({data: pts(iLo), borderColor: 'rgba(0,0,0,0)', pointRadius: 0, fill: false});
  ds.push({data: pts(sUp), borderColor: 'rgba(0,0,0,0)', pointRadius: 0, fill: '+1', backgroundColor: 'rgba(240,50,50,0.33)'});
  ds.push({data: pts(sLo), borderColor: 'rgba(0,0,0,0)', pointRadius: 0, fill: false});
  return ds;
}
function bottomDecor(id, revBottom) {
  return {
    id: id,
    beforeDatasetsDraw(chart) {
      const {ctx, chartArea: a, scales: {x, y}} = chart;
      ctx.save();
      ctx.strokeStyle = '#000';
      const bx = a.left - 9;
      ctx.lineWidth = 1.5;
      ctx.beginPath();
      ctx.moveTo(bx - 8, y.getPixelForValue(1)); ctx.lineTo(bx, y.getPixelForValue(1));
      ctx.lineTo(bx, y.getPixelForValue(-1)); ctx.lineTo(bx - 8, y.getPixelForValue(-1));
      ctx.stroke();
      ctx.setLineDash([2, 3]);
      ctx.lineWidth = 1.5;
      ctx.beginPath();
      ctx.moveTo(bx + 2, y.getPixelForValue(0)); ctx.lineTo(a.right + 9, y.getPixelForValue(0));
      ctx.stroke();
      ctx.setLineDash([6, 4]);
      ctx.beginPath();
      ctx.moveTo(x.getPixelForValue(reversalDay), y.getPixelForValue(2.26));
      ctx.lineTo(x.getPixelForValue(reversalDay), y.getPixelForValue(revBottom));
      ctx.stroke();
      ctx.setLineDash([]);
      ctx.lineWidth = 1.5;
      ctx.strokeStyle = RED;
      ctx.beginPath(); ctx.moveTo(a.left, y.getPixelForValue(2.88)); ctx.lineTo(a.right, y.getPixelForValue(2.88)); ctx.stroke();
      ctx.strokeStyle = '#000';
      ctx.beginPath(); ctx.moveTo(a.left, y.getPixelForValue(2.34)); ctx.lineTo(a.right, y.getPixelForValue(2.34)); ctx.stroke();
      ctx.restore();
    }
  };
}
function bottomOptions(left, right) {
  return {
    responsive: false, animation: false, events: [],
    layout: {padding: {left: left, right: 1200 - right, top: bY0 - bYMax * bPx, bottom: 20}},
    scales: {
      x: {
        type: 'linear', min: 1, max: 20, position: 'bottom', offset: false,
        afterFit: s => { s.height = 58; },
        grid: {display: true, drawOnChartArea: false, drawTicks: true, tickLength: 6, color: '#000', lineWidth: 1},
        border: {display: true, color: '#000', width: 1.5},
        ticks: {stepSize: 1, autoSkip: false, maxRotation: 0, padding: 2, color: '#000',
          font: {family: FONT, size: 21},
          callback: v => xTickLabels.includes(v) ? String(v) : ''},
        title: {display: true, text: 'days', color: '#000', font: {family: FONT, size: 22}, padding: {top: 0, bottom: 2}}
      },
      y: {type: 'linear', display: false, min: bYMin, max: bYMax}
    },
    plugins: {legend: {display: false}, tooltip: {enabled: false}, filler: {drawTime: 'beforeDatasetsDraw'}}
  };
}

new Chart(document.getElementById('cSst'), {
  type: 'line',
  data: {datasets: bottomDatasets(sstIntercept, sstSlope, sstInterUp, sstInterLo, sstSlopeUp, sstSlopeLo, sstMiceInter, sstMiceSlope)},
  options: bottomOptions(139, 318),
  plugins: [bottomDecor('sstDecor', -1.63)]
});
new Chart(document.getElementById('cPv'), {
  type: 'line',
  data: {datasets: bottomDatasets(pvIntercept, pvSlope, pvInterUp, pvInterLo, pvSlopeUp, pvSlopeLo, pvMiceInter, pvMiceSlope)},
  options: bottomOptions(372, 552),
  plugins: [bottomDecor('pvDecor', -2.25)]
});

yTickValues.forEach(v => addLabel(fmt(v), 117, bY0 - v * bPx, 'r', 21));
</script>
</body>
</html>
